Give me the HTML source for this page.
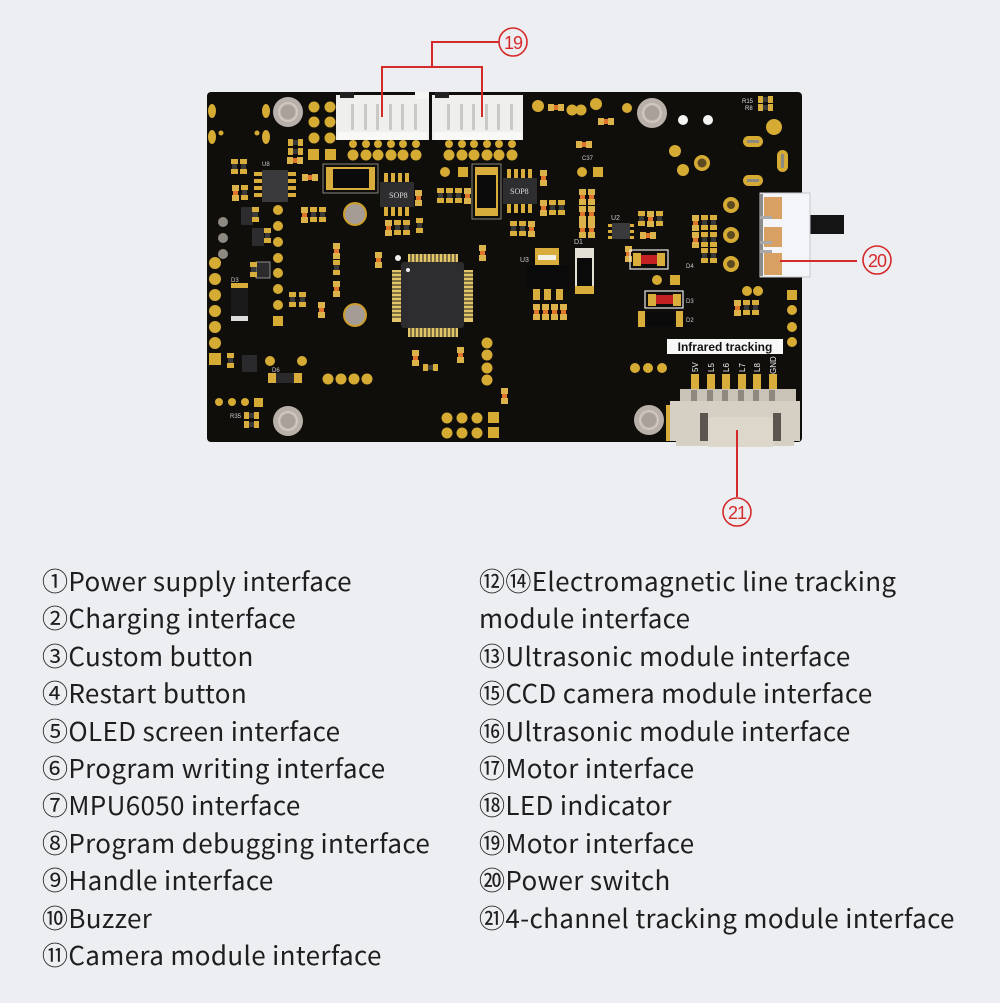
<!DOCTYPE html>
<html><head><meta charset="utf-8">
<style>
html,body{margin:0;padding:0;}
body{width:1000px;height:1003px;background:#edeef2;position:relative;overflow:hidden;}
svg{position:absolute;left:0;top:0;}
.col{position:absolute;font-family:"Noto Sans CJK SC","Liberation Sans",sans-serif;font-size:26px;letter-spacing:0.35px;color:#1e1e1e;white-space:nowrap;}
.col div{position:absolute;left:0;height:30px;line-height:30px;}
</style></head>
<body>
<svg width="1000" height="1003" viewBox="0 0 1000 1003" xmlns="http://www.w3.org/2000/svg">
<defs>
<g id="rh"><rect x="0" y="0" width="5" height="7" fill="#d8ad3c"/><rect x="5" y="1" width="5" height="5" fill="#3a3a3a"/><rect x="10" y="0" width="5" height="7" fill="#d8ad3c"/></g>
<g id="rv"><rect x="0" y="0" width="7" height="5" fill="#d8ad3c"/><rect x="1" y="5" width="5" height="5" fill="#3a3a3a"/><rect x="0" y="10" width="7" height="5" fill="#d8ad3c"/></g>
<g id="cv"><rect x="0" y="0" width="7" height="6" fill="#dcb24a"/><rect x="1" y="6" width="5" height="4" fill="#e0742a"/><rect x="0" y="10" width="7" height="6" fill="#dcb24a"/></g>
<g id="ch"><rect x="0" y="0" width="6" height="7" fill="#dcb24a"/><rect x="6" y="1" width="4" height="5" fill="#e0742a"/><rect x="10" y="0" width="6" height="7" fill="#dcb24a"/></g>
<g id="hole"><circle r="15" fill="#b9b0aa"/><circle r="9" fill="none" stroke="#cfc7c0" stroke-width="2"/><circle r="7" fill="#a9a09a"/></g>
<g id="gh"><circle r="12" fill="#cc9e2c"/><circle r="10" fill="#a59c96"/></g>
</defs>

<!-- board -->
<rect x="207" y="92" width="595" height="350" rx="4" fill="#0f0e0b"/>

<!-- red connector lines 19 -->
<g stroke="#d52a2a" stroke-width="2" fill="none">
<polyline points="382,117 382,67 482,67 482,117"/>
<polyline points="432,67 432,42 499,42"/>
</g>

<!-- top connectors -->
<g>
<rect x="336" y="95" width="93" height="45" fill="#efefed"/>
<rect x="340" y="92" width="14" height="6" fill="#222"/>
<rect x="415" y="92" width="14" height="7" fill="#f5f5f3"/>
<rect x="338" y="132" width="89" height="8" fill="#f8f8f6"/>
<g fill="#c9c9c6"><rect x="351" y="104" width="3" height="26"/><rect x="364" y="104" width="3" height="26"/><rect x="376" y="104" width="3" height="26"/><rect x="389" y="104" width="3" height="26"/><rect x="401" y="104" width="3" height="26"/><rect x="414" y="104" width="3" height="26"/></g>
<rect x="432" y="95" width="91" height="45" fill="#efefed"/>
<rect x="435" y="92" width="14" height="6" fill="#222"/>
<rect x="434" y="132" width="87" height="8" fill="#f8f8f6"/>
<g fill="#c9c9c6"><rect x="447" y="104" width="3" height="26"/><rect x="460" y="104" width="3" height="26"/><rect x="472" y="104" width="3" height="26"/><rect x="485" y="104" width="3" height="26"/><rect x="497" y="104" width="3" height="26"/><rect x="510" y="104" width="3" height="26"/></g>
</g>
<g stroke="#d52a2a" stroke-width="2"><line x1="382" y1="95" x2="382" y2="117"/><line x1="482" y1="95" x2="482" y2="117"/></g>

<!-- pads under connectors -->
<g fill="#d6ab34">
<circle cx="353" cy="144" r="4"/><circle cx="366" cy="144" r="4"/><circle cx="378" cy="144" r="4"/><circle cx="391" cy="144" r="4"/><circle cx="403" cy="144" r="4"/><circle cx="416" cy="144" r="4"/>
<circle cx="353" cy="155" r="5.5"/><circle cx="366" cy="155" r="5.5"/><circle cx="378" cy="155" r="5.5"/><circle cx="391" cy="155" r="5.5"/><circle cx="403" cy="155" r="5.5"/><circle cx="416" cy="155" r="5.5"/>
<circle cx="449" cy="144" r="4"/><circle cx="462" cy="144" r="4"/><circle cx="474" cy="144" r="4"/><circle cx="487" cy="144" r="4"/><circle cx="499" cy="144" r="4"/><circle cx="512" cy="144" r="4"/>
<circle cx="449" cy="155" r="5.5"/><circle cx="462" cy="155" r="5.5"/><circle cx="474" cy="155" r="5.5"/><circle cx="487" cy="155" r="5.5"/><circle cx="499" cy="155" r="5.5"/><circle cx="512" cy="155" r="5.5"/>
<circle cx="314" cy="107" r="5.5"/><circle cx="330" cy="107" r="5.5"/><circle cx="314" cy="122" r="5.5"/><circle cx="330" cy="122" r="5.5"/><circle cx="314" cy="138" r="5.5"/><circle cx="330" cy="138" r="5.5"/>
<rect x="308" y="149" width="11" height="11"/><rect x="325" y="149" width="11" height="11"/>
<ellipse cx="212" cy="111" rx="4" ry="7"/><ellipse cx="266" cy="111" rx="4" ry="7"/><ellipse cx="212" cy="137" rx="4" ry="7"/><ellipse cx="266" cy="137" rx="4" ry="7"/>
<circle cx="257" cy="133" r="2.5"/><circle cx="221" cy="133" r="2.5"/>
<circle cx="538" cy="106" r="6"/><circle cx="572" cy="110" r="5.5"/><circle cx="581" cy="110" r="5.5"/><circle cx="596" cy="104" r="6"/><circle cx="627" cy="108" r="5"/>
<circle cx="774" cy="127" r="8"/>
<rect x="743" y="136" width="20" height="11" rx="5.5"/><rect x="743" y="175" width="20" height="11" rx="5.5"/><rect x="777" y="150" width="11" height="22" rx="5.5"/>
<circle cx="675" cy="151" r="6"/><circle cx="683" cy="170" r="6"/><circle cx="702" cy="163" r="8"/>
<circle cx="731" cy="205" r="8"/><circle cx="731" cy="235" r="8"/><circle cx="731" cy="264" r="8"/>
</g>
<g fill="#5b4a22"><circle cx="702" cy="163" r="4.5"/><circle cx="731" cy="205" r="4"/><circle cx="731" cy="235" r="4"/><circle cx="731" cy="264" r="4"/><rect x="747" y="140" width="12" height="3" fill="#8a8a80"/><rect x="747" y="179" width="12" height="3" fill="#8a8a80"/><rect x="781" y="154" width="3" height="14" fill="#8a8a80"/></g>
<circle cx="683" cy="120" r="5" fill="#f4f4f2"/><circle cx="708" cy="120" r="5" fill="#f4f4f2"/>
<use href="#rh" x="758" y="96"/><use href="#rh" x="758" y="104"/>
<text x="742" y="103" font-family="Liberation Sans" font-size="6" fill="#ddd">R15</text>
<text x="745" y="110" font-family="Liberation Sans" font-size="6" fill="#ddd">R8</text>

<!-- mounting holes -->
<use href="#hole" x="288" y="112"/><use href="#hole" x="652" y="113"/><use href="#hole" x="288" y="421"/><use href="#hole" x="649" y="420"/>
<use href="#gh" x="355" y="214"/><use href="#gh" x="355" y="315"/>

<!-- left area components -->
<use href="#rh" x="288" y="139"/><use href="#rh" x="288" y="148"/><use href="#ch" x="287" y="157"/>
<use href="#rv" x="231" y="159"/><use href="#rv" x="240" y="159"/>
<use href="#cv" x="232" y="185"/><use href="#rv" x="241" y="185"/>
<use href="#ch" x="302" y="174"/>
<rect x="262" y="170" width="26" height="32" fill="#3a3a3c"/>
<g fill="#d8ad3c"><rect x="254" y="172" width="8" height="4"/><rect x="254" y="179" width="8" height="4"/><rect x="254" y="186" width="8" height="4"/><rect x="254" y="193" width="8" height="4"/><rect x="288" y="172" width="8" height="4"/><rect x="288" y="179" width="8" height="4"/><rect x="288" y="186" width="8" height="4"/><rect x="288" y="193" width="8" height="4"/></g>
<rect x="323" y="164" width="55" height="29" fill="none" stroke="#8a8478" stroke-width="1"/>
<rect x="326" y="167" width="49" height="23" fill="#d8ad3c"/><rect x="333" y="169" width="36" height="19" fill="#0b0b0b"/>
<rect x="380" y="182" width="34" height="25" fill="#2e2e30"/>
<g fill="#d8ad3c"><rect x="384" y="173" width="4" height="9"/><rect x="391" y="173" width="4" height="9"/><rect x="398" y="173" width="4" height="9"/><rect x="405" y="173" width="4" height="9"/><rect x="384" y="207" width="4" height="9"/><rect x="391" y="207" width="4" height="9"/><rect x="398" y="207" width="4" height="9"/><rect x="405" y="207" width="4" height="9"/></g>
<text x="389" y="198" font-family="Liberation Serif" font-size="8" fill="#ddd">SOP8</text>
<use href="#cv" x="415" y="190"/>
<use href="#cv" x="385" y="220"/><use href="#rv" x="394" y="220"/><use href="#rv" x="403" y="220"/><use href="#rv" x="416" y="218"/>
<use href="#cv" x="375" y="252"/>
<use href="#cv" x="301" y="207"/><use href="#rv" x="310" y="207"/><use href="#rv" x="319" y="207"/>
<use href="#cv" x="333" y="243"/><use href="#rv" x="333" y="260"/><use href="#cv" x="333" y="281"/>
<use href="#rv" x="289" y="292"/><use href="#rv" x="299" y="292"/>
<use href="#cv" x="318" y="302"/>
<rect x="241" y="207" width="12" height="18" fill="#2c2c2e"/><use href="#rv" x="252" y="207"/>
<rect x="252" y="228" width="12" height="18" fill="#2c2c2e"/><use href="#rv" x="264" y="228"/>
<rect x="256" y="262" width="14" height="16" fill="#2c2c2e" stroke="#aaa" stroke-width="0.8"/><use href="#rv" x="250" y="262"/>
<g fill="#d6ab34"><circle cx="278" cy="210" r="5"/><circle cx="278" cy="226" r="5"/><circle cx="278" cy="242" r="5"/><circle cx="278" cy="258" r="5"/><circle cx="278" cy="273" r="5"/><circle cx="278" cy="289" r="5"/><circle cx="278" cy="305" r="5"/><rect x="273" y="316" width="10" height="10"/>
<circle cx="215" cy="263" r="6"/><circle cx="215" cy="279" r="6"/><circle cx="215" cy="295" r="6"/><circle cx="215" cy="311" r="6"/><circle cx="215" cy="327" r="6"/><circle cx="215" cy="343" r="6"/><rect x="209" y="353" width="12" height="12"/>
<circle cx="223" cy="222" r="5" fill="#8e8a82"/><circle cx="223" cy="238" r="5" fill="#8e8a82"/><circle cx="223" cy="254" r="5" fill="#8e8a82"/>
<circle cx="270" cy="361" r="5"/><circle cx="302" cy="361" r="5"/>
<circle cx="219" cy="402" r="4"/><circle cx="232" cy="402" r="4"/><circle cx="245" cy="402" r="4"/><rect x="254" y="398" width="9" height="9"/>
<circle cx="328" cy="379" r="5.5"/><circle cx="341" cy="379" r="5.5"/><circle cx="354" cy="379" r="5.5"/><circle cx="367" cy="379" r="5.5"/>
<circle cx="487" cy="343" r="5.5"/><circle cx="487" cy="355" r="5.5"/><circle cx="487" cy="368" r="5.5"/><circle cx="487" cy="380" r="5.5"/>
<circle cx="447" cy="418" r="5.5"/><circle cx="462" cy="418" r="5.5"/><circle cx="477" cy="418" r="5.5"/><rect x="488" y="412" width="11" height="11"/>
<circle cx="447" cy="433" r="5.5"/><circle cx="462" cy="433" r="5.5"/><circle cx="477" cy="433" r="5.5"/><rect x="488" y="427" width="11" height="11"/>
<circle cx="635" cy="368" r="5"/><circle cx="648" cy="368" r="5"/><circle cx="662" cy="368" r="5"/>
<rect x="787" y="290" width="10" height="10"/><circle cx="792" cy="310" r="5"/><circle cx="792" cy="327" r="5"/><circle cx="792" cy="342" r="5"/>
<circle cx="747" cy="291" r="5"/><circle cx="758" cy="291" r="5"/>
<circle cx="445" cy="172" r="5"/><rect x="458" y="167" width="10" height="10"/>
<circle cx="582" cy="172" r="5"/><rect x="593" y="167" width="10" height="10"/>
<circle cx="657" cy="280" r="5"/><rect x="670" y="275" width="10" height="10"/>
</g>
<!-- D3 left -->
<rect x="231" y="283" width="17" height="36" fill="#1a1a1a"/><rect x="231" y="283" width="17" height="5" fill="#d8ad3c"/><rect x="231" y="316" width="17" height="5" fill="#ddd"/>
<use href="#rv" x="227" y="353"/><rect x="242" y="355" width="15" height="17" fill="#2a2a2c"/>
<rect x="268" y="373" width="34" height="10" fill="#d8ad3c"/><rect x="276" y="373" width="18" height="10" fill="#2a2a2c"/>
<use href="#rh" x="244" y="412"/><use href="#rh" x="244" y="421"/>
<text x="230" y="418" font-family="Liberation Sans" font-size="6" fill="#ccc">R35</text>

<!-- MCU -->
<g fill="#e3c56a">
<rect x="408" y="254" width="50" height="9"/><rect x="408" y="328" width="50" height="9"/>
<rect x="392" y="270" width="9" height="52"/><rect x="464" y="270" width="9" height="52"/>
</g>
<g stroke="#1a1a18" stroke-width="1">
<path d="M411 254v9M415 254v9M419 254v9M423 254v9M427 254v9M431 254v9M435 254v9M439 254v9M443 254v9M447 254v9M451 254v9M455 254v9"/>
<path d="M411 328v9M415 328v9M419 328v9M423 328v9M427 328v9M431 328v9M435 328v9M439 328v9M443 328v9M447 328v9M451 328v9M455 328v9"/>
<path d="M392 273h9M392 277h9M392 281h9M392 285h9M392 289h9M392 293h9M392 297h9M392 301h9M392 305h9M392 309h9M392 313h9M392 317h9"/>
<path d="M464 273h9M464 277h9M464 281h9M464 285h9M464 289h9M464 293h9M464 297h9M464 301h9M464 305h9M464 309h9M464 313h9M464 317h9"/>
</g>
<rect x="401" y="262" width="63" height="66" rx="3" fill="#2d2d30"/>
<circle cx="408" cy="270" r="2" fill="#eee"/><circle cx="398" cy="258" r="3" fill="#eee"/>

<!-- middle components -->
<rect x="472" y="164" width="29" height="55" fill="none" stroke="#8a8478" stroke-width="1"/>
<rect x="475" y="167" width="23" height="49" fill="#d8ad3c"/><rect x="477" y="175" width="19" height="33" fill="#0b0b0b"/>
<rect x="503" y="178" width="34" height="26" fill="#2e2e30"/>
<g fill="#d8ad3c"><rect x="507" y="169" width="4" height="9"/><rect x="514" y="169" width="4" height="9"/><rect x="521" y="169" width="4" height="9"/><rect x="528" y="169" width="4" height="9"/><rect x="507" y="204" width="4" height="9"/><rect x="514" y="204" width="4" height="9"/><rect x="521" y="204" width="4" height="9"/><rect x="528" y="204" width="4" height="9"/></g>
<text x="510" y="194" font-family="Liberation Serif" font-size="8" fill="#ddd">SOP8</text>
<use href="#rv" x="437" y="188"/><use href="#rv" x="446" y="188"/><use href="#rv" x="455" y="188"/><use href="#cv" x="464" y="188"/>
<use href="#cv" x="540" y="170"/>
<use href="#cv" x="540" y="200"/><use href="#rv" x="549" y="200"/><use href="#rv" x="558" y="200"/>
<use href="#rv" x="510" y="221"/><use href="#rv" x="519" y="221"/><use href="#cv" x="528" y="221"/>
<use href="#cv" x="479" y="245"/>
<use href="#ch" x="576" y="141"/>
<use href="#cv" x="579" y="189"/><use href="#cv" x="588" y="189"/><use href="#cv" x="579" y="206"/><use href="#cv" x="588" y="206"/><use href="#cv" x="579" y="222"/><use href="#cv" x="588" y="222"/>
<use href="#ch" x="548" y="104"/><use href="#ch" x="598" y="118"/>
<rect x="612" y="223" width="18" height="16" fill="#3a3a3c"/>
<g fill="#d8ad3c"><rect x="608" y="224" width="4" height="3"/><rect x="608" y="230" width="4" height="3"/><rect x="608" y="236" width="4" height="3"/><rect x="630" y="224" width="4" height="3"/><rect x="630" y="230" width="4" height="3"/><rect x="630" y="236" width="4" height="3"/></g>
<use href="#cv" x="625" y="246"/>
<!-- U3 -->
<rect x="535" y="248" width="24" height="17" fill="#d8ad3c"/><rect x="538" y="255" width="18" height="5" fill="#f3f0e6"/>
<rect x="526" y="265" width="43" height="24" fill="#0a0a0a"/>
<g fill="#d8ad3c"><rect x="533" y="289" width="7" height="11"/><rect x="544" y="289" width="7" height="11"/><rect x="556" y="289" width="7" height="11"/></g>
<use href="#cv" x="533" y="304"/><use href="#cv" x="542" y="304"/><use href="#cv" x="551" y="304"/><use href="#cv" x="560" y="304"/>
<!-- D1 -->
<rect x="575" y="248" width="19" height="46" fill="#e4e0d6"/><rect x="577" y="258" width="15" height="28" fill="#0a0a0a"/><rect x="575" y="286" width="19" height="8" fill="#d8ad3c"/>
<!-- right middle -->
<use href="#rv" x="638" y="211"/><use href="#cv" x="647" y="211"/><use href="#rv" x="656" y="211"/>
<use href="#ch" x="640" y="232"/>
<use href="#cv" x="692" y="215"/><use href="#rv" x="701" y="215"/><use href="#rv" x="710" y="215"/><use href="#cv" x="692" y="232"/><use href="#rv" x="701" y="232"/><use href="#rv" x="710" y="232"/><use href="#rv" x="701" y="248"/><use href="#rv" x="710" y="248"/>
<rect x="630" y="250" width="38" height="19" fill="none" stroke="#e8e8e8" stroke-width="1.2"/>
<rect x="633" y="253" width="8" height="13" fill="#d8ad3c"/><rect x="657" y="253" width="8" height="13" fill="#d8ad3c"/><rect x="641" y="255" width="16" height="9" fill="#c42222"/>
<rect x="645" y="291" width="38" height="17" fill="none" stroke="#e8e8e8" stroke-width="1.2"/>
<rect x="648" y="294" width="8" height="12" fill="#d8ad3c"/><rect x="673" y="294" width="8" height="12" fill="#d8ad3c"/><rect x="656" y="295" width="17" height="9" fill="#c42222"/>
<rect x="638" y="311" width="7" height="16" fill="#d8ad3c"/><rect x="676" y="311" width="7" height="16" fill="#d8ad3c"/><rect x="647" y="312" width="27" height="14" fill="#0a0a0a"/>
<use href="#cv" x="734" y="300"/><use href="#rv" x="743" y="300"/><use href="#rv" x="752" y="300"/>
<use href="#cv" x="412" y="350"/><use href="#cv" x="457" y="347"/><use href="#rh" x="423" y="364"/>
<use href="#cv" x="501" y="388"/>
<text x="686" y="268" font-family="Liberation Sans" font-size="6" fill="#ccc">D4</text>
<text x="686" y="303" font-family="Liberation Sans" font-size="6" fill="#ccc">D3</text>
<text x="686" y="322" font-family="Liberation Sans" font-size="6" fill="#ccc">D2</text>
<text x="520" y="262" font-family="Liberation Sans" font-size="7" fill="#ccc">U3</text>
<text x="574" y="244" font-family="Liberation Sans" font-size="7" fill="#ccc">D1</text>
<text x="611" y="220" font-family="Liberation Sans" font-size="7" fill="#ccc">U2</text>
<text x="262" y="166" font-family="Liberation Sans" font-size="6" fill="#ccc">U8</text>
<text x="231" y="282" font-family="Liberation Sans" font-size="6" fill="#ccc">D3</text>
<text x="272" y="372" font-family="Liberation Sans" font-size="6" fill="#ccc">D6</text>
<text x="582" y="160" font-family="Liberation Sans" font-size="6" fill="#ccc">C37</text>

<!-- Power switch -->
<rect x="810" y="215" width="34" height="19" fill="#141414"/>
<rect x="760" y="193" width="50" height="84" fill="#f4f5f8"/>
<rect x="760" y="193" width="50" height="84" fill="none" stroke="#c8c8cc" stroke-width="1"/>
<rect x="760" y="194" width="3" height="82" fill="#8c8c8c"/>
<rect x="764" y="197" width="18" height="22" fill="#d9a064"/><rect x="764" y="227" width="18" height="20" fill="#d9a064"/><rect x="764" y="253" width="18" height="22" fill="#d9a064"/>
<rect x="760" y="216" width="12" height="3" fill="#aaa"/><rect x="760" y="241" width="12" height="3" fill="#aaa"/><rect x="760" y="250" width="12" height="3" fill="#aaa"/>
<line x1="780" y1="261" x2="857" y2="261" stroke="#d52a2a" stroke-width="2"/>

<!-- Infrared tracking -->
<rect x="667" y="339" width="116" height="15" fill="#f7f7f7"/>
<text x="725" y="351" text-anchor="middle" font-family="Liberation Sans" font-weight="bold" font-size="12" fill="#111">Infrared tracking</text>
<g font-family="Liberation Sans" font-size="8" fill="#f0f0f0">
<text transform="translate(698,372) rotate(-90)">5V</text>
<text transform="translate(714,372) rotate(-90)">L5</text>
<text transform="translate(729,372) rotate(-90)">L6</text>
<text transform="translate(745,372) rotate(-90)">L7</text>
<text transform="translate(760,372) rotate(-90)">L8</text>
<text transform="translate(776,374) rotate(-90)">GND</text>
</g>
<g fill="#d8ad3c"><rect x="691" y="374" width="8" height="20"/><rect x="707" y="374" width="8" height="20"/><rect x="722" y="374" width="8" height="20"/><rect x="738" y="374" width="8" height="20"/><rect x="753" y="374" width="8" height="20"/><rect x="769" y="374" width="8" height="20"/></g>
<!-- connector 21 -->
<rect x="666" y="405" width="8" height="36" fill="#d8ad3c"/>
<rect x="680" y="389" width="116" height="14" fill="#c9c2b6"/>
<g fill="#8e887e"><rect x="691" y="390" width="6" height="11"/><rect x="707" y="390" width="6" height="11"/><rect x="722" y="390" width="6" height="11"/><rect x="738" y="390" width="6" height="11"/><rect x="753" y="390" width="6" height="11"/><rect x="769" y="390" width="6" height="11"/></g>
<rect x="670" y="401" width="130" height="40" fill="#d6cfc3"/>
<rect x="676" y="441" width="118" height="5" fill="#d6cfc3"/>
<rect x="700" y="413" width="8" height="28" fill="#5a564f"/><rect x="773" y="413" width="8" height="28" fill="#5a564f"/>
<rect x="708" y="417" width="65" height="30" fill="#ddd7cb"/>
<line x1="737" y1="430" x2="737" y2="497" stroke="#d52a2a" stroke-width="2"/>

<!-- circle labels -->
<g fill="none" stroke="#d52a2a" stroke-width="1.6">
<circle cx="513" cy="42" r="14"/><circle cx="877" cy="260" r="14"/><circle cx="737" cy="512" r="14"/>
</g>
<g font-family="Liberation Sans" font-size="18" fill="#d52a2a" text-anchor="middle">
<text x="513" y="49" letter-spacing="-1">19</text>
<text x="877" y="267" letter-spacing="-1">20</text>
<text x="737" y="519" letter-spacing="-1">21</text>
</g>
</svg>

<div class="col" style="left:42px;top:566px;">
<div style="top:0px">①Power supply interface</div>
<div style="top:37.4px">②Charging interface</div>
<div style="top:74.8px">③Custom button</div>
<div style="top:112.2px">④Restart button</div>
<div style="top:149.6px">⑤OLED screen interface</div>
<div style="top:187px">⑥Program writing interface</div>
<div style="top:224.4px">⑦MPU6050 interface</div>
<div style="top:261.8px">⑧Program debugging interface</div>
<div style="top:299.2px">⑨Handle interface</div>
<div style="top:336.6px">⑩Buzzer</div>
<div style="top:374px">⑪Camera module interface</div>
</div>
<div class="col" style="left:479px;top:566px;">
<div style="top:0px">⑫⑭Electromagnetic line tracking</div>
<div style="top:37.4px">module interface</div>
<div style="top:74.8px">⑬Ultrasonic module interface</div>
<div style="top:112.2px">⑮CCD camera module interface</div>
<div style="top:149.6px">⑯Ultrasonic module interface</div>
<div style="top:187px">⑰Motor interface</div>
<div style="top:224.4px">⑱LED indicator</div>
<div style="top:261.8px">⑲Motor interface</div>
<div style="top:299.2px">⑳Power switch</div>
<div style="top:336.6px">㉑4-channel tracking module interface</div>
</div>
</body></html>
